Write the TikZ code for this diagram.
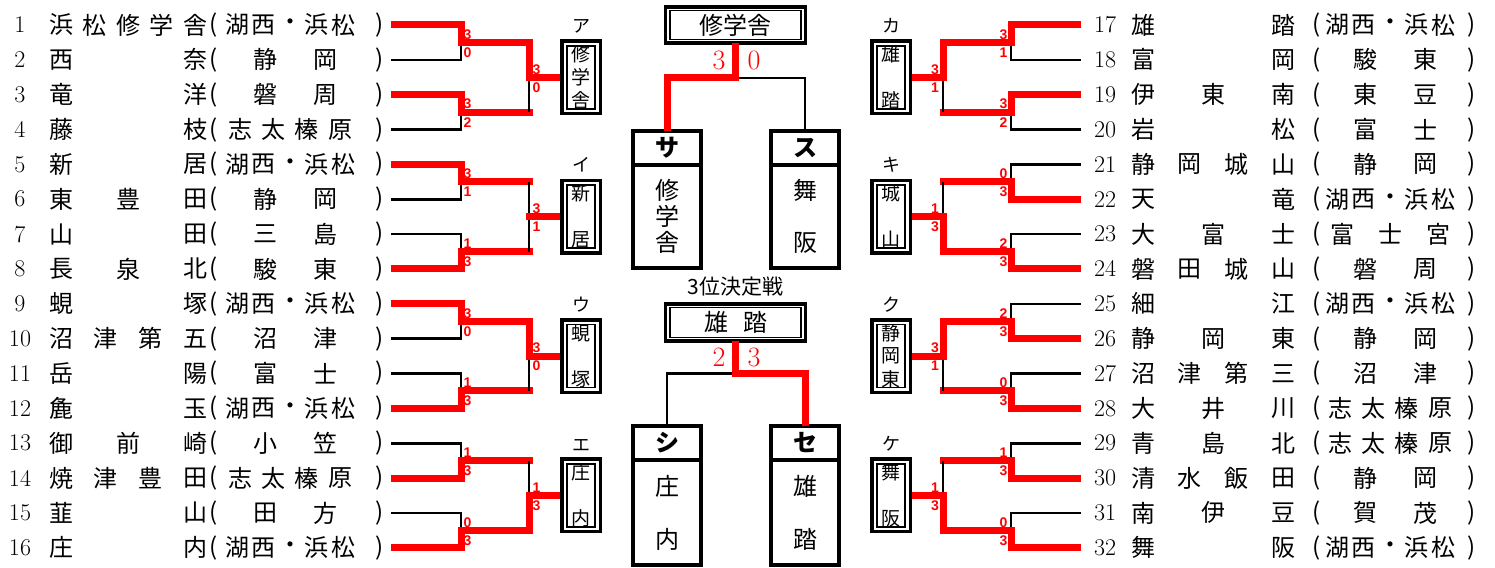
\documentclass[tikz,border=0pt]{standalone}
\usepackage{fontspec}
\newfontfamily\jp{Noto Sans CJK JP}
\newfontfamily\arial{Liberation Sans}
\usetikzlibrary{calc,positioning}

% put a list of characters evenly from one position to another
\newcommand\spreadchars[4][cjk]{%
  \edef\chlist{#4}%
  \gdef\nch{0}%
  \foreach \chr in \chlist {\xdef\nch{\the\numexpr\nch+1\relax}}%
  \foreach \chr [count=\k] in \chlist {%
    \pgfmathsetmacro\fr{(\k-1)/max(\nch-1,1)}%
    \node[#1] at ($#2!\fr!#3$) {\chr};}%
}
% area field: centred, wider for more characters
\newcommand\prefchars[3]{%
  \edef\chlist{#3}%
  \gdef\nch{0}%
  \foreach \chr in \chlist {\xdef\nch{\the\numexpr\nch+1\relax}}%
  \pgfmathsetmacro\hw{\nch==2 ? 30 : (\nch==3 ? 48 : (\nch==4 ? 50 : 53))}%
  \pgfmathsetmacro\pc{\nch==2 ? #1+5 : #1}%
  \spreadchars{(\pc-\hw,#2)}{(\pc+\hw,#2)}{#3}%
}
\newcommand\rowL[3]{%
  \pgfmathsetmacro\ry{25+(#1-1)*34.85}%
  \node[num] (n#1) at (20,\ry) {#1};%
  \spreadchars{(61,\ry)}{(195,\ry)}{#2}%
  \node[cjk] (o#1) at (214,\ry) {(};%
  \prefchars{290}{\ry}{#3}%
  \node[cjk] (c#1) at (380,\ry) {)};%
  \coordinate (a#1) at (391,\ry);%
}
\newcommand\rowR[3]{%
  \pgfmathsetmacro\ry{25+(#1-17)*34.85}%
  \node[num] (n#1) at (1105,\ry) {#1};%
  \spreadchars{(1143,\ry)}{(1283,\ry)}{#2}%
  \node[cjk] (o#1) at (1317,\ry) {(};%
  \prefchars{1390}{\ry}{#3}%
  \node[cjk] (c#1) at (1472,\ry) {)};%
  \coordinate (a#1) at (1081,\ry);%
}

\begin{document}
\begin{tikzpicture}[x=1pt,y=-1pt,
    every node/.style={inner sep=0pt,outer sep=0pt},
    cjk/.style={font=\jp\fontsize{24}{24}\selectfont},
    num/.style={font=\fontsize{24}{24}\selectfont},
    win/.style={red,line width=7pt,line cap=rect,line join=miter},
    winc/.style={win,line cap=butt},
    lose/.style={line width=2.6pt},
    score/.style={red,font=\arial\bfseries\fontsize{14}{14}\selectfont},
    bigscore/.style={red,font=\fontsize{28}{28}\selectfont},
    dbl/.style={draw,line width=3.5pt},
    dblin/.style={draw,line width=1.5pt},
    boxtxt/.style={font=\jp\fontsize{19}{19}\selectfont},
    boxlab/.style={font=\jp\fontsize{18}{18}\selectfont},
    team/.style={draw,line width=3.5pt,minimum width=68},
    head/.style={font=\jp\bfseries\fontsize{24}{24}\selectfont}]

  \useasboundingbox (0,0) rectangle (1495,567);

  % teams
  \rowL{1}{浜,松,修,学,舎}{湖,西,・,浜,松}
  \rowL{2}{西,奈}{静,岡}
  \rowL{3}{竜,洋}{磐,周}
  \rowL{4}{藤,枝}{志,太,榛,原}
  \rowL{5}{新,居}{湖,西,・,浜,松}
  \rowL{6}{東,豊,田}{静,岡}
  \rowL{7}{山,田}{三,島}
  \rowL{8}{長,泉,北}{駿,東}
  \rowL{9}{蜆,塚}{湖,西,・,浜,松}
  \rowL{10}{沼,津,第,五}{沼,津}
  \rowL{11}{岳,陽}{富,士}
  \rowL{12}{麁,玉}{湖,西,・,浜,松}
  \rowL{13}{御,前,崎}{小,笠}
  \rowL{14}{焼,津,豊,田}{志,太,榛,原}
  \rowL{15}{韮,山}{田,方}
  \rowL{16}{庄,内}{湖,西,・,浜,松}
  \rowR{17}{雄,踏}{湖,西,・,浜,松}
  \rowR{18}{富,岡}{駿,東}
  \rowR{19}{伊,東,南}{東,豆}
  \rowR{20}{岩,松}{富,士}
  \rowR{21}{静,岡,城,山}{静,岡}
  \rowR{22}{天,竜}{湖,西,・,浜,松}
  \rowR{23}{大,富,士}{富,士,宮}
  \rowR{24}{磐,田,城,山}{磐,周}
  \rowR{25}{細,江}{湖,西,・,浜,松}
  \rowR{26}{静,岡,東}{静,岡}
  \rowR{27}{沼,津,第,三}{沼,津}
  \rowR{28}{大,井,川}{志,太,榛,原}
  \rowR{29}{青,島,北}{志,太,榛,原}
  \rowR{30}{清,水,飯,田}{静,岡}
  \rowR{31}{南,伊,豆}{賀,茂}
  \rowR{32}{舞,阪}{湖,西,・,浜,松}

  % first round
  \foreach \m/\ga/\gb in {1/3/0,2/3/2,3/3/1,4/1/3,5/3/0,6/1/3,7/1/3,8/0/3}
  {
    \pgfmathtruncatemacro\rt{2*\m-1}
    \pgfmathtruncatemacro\rb{2*\m}
    \ifnum\ga>\gb \let\rw\rt\let\rl\rb \else \let\rw\rb\let\rl\rt \fi
    \coordinate (j\m) at ($(a\rt)!.5!(a\rb)+(70,0)$);
    \coordinate (e\m) at ($(j\m)+(68,0)$);
    \draw[lose] (a\rl) -| (j\m);
    \draw[win] ([xshift=3.5pt]a\rw) -| (j\m) -- (e\m);
    \node[score] at ([shift={(6.5,-8)}]j\m) {\ga};
    \node[score] at ([shift={(6.5,10)}]j\m) {\gb};
  }
  \foreach \m/\ga/\gb in {9/3/1,10/3/2,11/0/3,12/2/3,13/2/3,14/0/3,15/1/3,16/0/3}
  {
    \pgfmathtruncatemacro\rt{2*\m-1}
    \pgfmathtruncatemacro\rb{2*\m}
    \ifnum\ga>\gb \let\rw\rt\let\rl\rb \else \let\rw\rb\let\rl\rt \fi
    \coordinate (j\m) at ($(a\rt)!.5!(a\rb)+(-70,0)$);
    \coordinate (e\m) at ($(j\m)+(-68,0)$);
    \draw[lose] (a\rl) -| (j\m);
    \draw[win] ([xshift=-3.5pt]a\rw) -| (j\m) -- (e\m);
    \node[score] at ([shift={(-7.5,-8)}]j\m) {\ga};
    \node[score] at ([shift={(-7.5,10)}]j\m) {\gb};
  }

  % second round and block winners
  \foreach \q/\ga/\gb/\v/\dx in {1/3/0/1/52,2/3/1/0/52,3/3/0/1/52,4/1/3/1/52,
                                 5/3/1/1/-52,6/1/3/1/-52,7/3/1/1/-52,8/1/3/1/-52}
  {
    \pgfmathtruncatemacro\mt{2*\q-1}
    \pgfmathtruncatemacro\mb{2*\q}
    \ifnum\ga>\gb \let\mw\mt\let\ml\mb \else \let\mw\mb\let\ml\mt \fi
    \coordinate (s\q) at ($(e\mt)!.5!(e\mb)$);
    \draw[lose] (e\ml) -- (s\q);
    \ifnum\v=1 \draw[win] (e\mw) -- (s\q); \else \draw[lose] (e\mw) -- (s\q); \fi
    \node[dbl,minimum width=38.5,minimum height=72.5] (bx\q) at ($(s\q)+(\dx,0)$) {};
    \draw[win] (s\q) -- (bx\q);
    \node[score] at ([shift={(0.15*\dx-0.3,-8)}]s\q) {\ga};
    \node[score] at ([shift={(0.15*\dx-0.3,10)}]s\q) {\gb};
  }
  % boxes over the stubs
  \foreach \q in {1,...,8}
  {
    \node[dbl,fill=white,minimum width=38.5,minimum height=72.5] at (bx\q) {};
    \node[dblin,minimum width=28,minimum height=63] at (bx\q) {};
  }
  \node[boxlab,above=8pt of bx1] (lab1) {ア};
  \node[boxlab,above=8pt of bx2] (lab2) {イ};
  \node[boxlab,above=8pt of bx3] (lab3) {ウ};
  \node[boxlab,above=8pt of bx4] (lab4) {エ};
  \node[boxlab,above=8pt of bx5] (lab5) {カ};
  \node[boxlab,above=8pt of bx6] (lab6) {キ};
  \node[boxlab,above=8pt of bx7] (lab7) {ク};
  \node[boxlab,above=8pt of bx8] (lab8) {ケ};
  \spreadchars[boxtxt]{([yshift=23pt]bx1.center)}{([yshift=-23pt]bx1.center)}{修,学,舎}
  \spreadchars[boxtxt]{([yshift=23pt]bx2.center)}{([yshift=-23pt]bx2.center)}{新,居}
  \spreadchars[boxtxt]{([yshift=23pt]bx3.center)}{([yshift=-23pt]bx3.center)}{蜆,塚}
  \spreadchars[boxtxt]{([yshift=23pt]bx4.center)}{([yshift=-23pt]bx4.center)}{庄,内}
  \spreadchars[boxtxt]{([yshift=23pt]bx5.center)}{([yshift=-23pt]bx5.center)}{雄,踏}
  \spreadchars[boxtxt]{([yshift=23pt]bx6.center)}{([yshift=-23pt]bx6.center)}{城,山}
  \spreadchars[boxtxt]{([yshift=23pt]bx7.center)}{([yshift=-23pt]bx7.center)}{静,岡,東}
  \spreadchars[boxtxt]{([yshift=23pt]bx8.center)}{([yshift=-23pt]bx8.center)}{舞,阪}

  % final
  \node[dbl,minimum width=140,minimum height=36] (champ) at (735.5,25) {};
  \node[dblin,minimum width=131,minimum height=29,cjk] at (champ) {修学舎};
  \node[team,minimum height=137] (sa) at (667,199.5) {};
  \node[team,minimum height=137] (su) at (805,199.5) {};
  \coordinate (fk1) at ($(champ.south)+(0,35)$);
  \draw[lose] (fk1) -| (su.north);
  \draw[winc] (champ.south) -- (fk1) -| (sa.north);
  \node[bigscore] at ([shift={(-16.5,-18)}]fk1) {3};
  \node[bigscore] at ([shift={(18.5,-18)}]fk1) {0};

  % third place
  \node[dbl,minimum width=140,minimum height=37] (third) at (735.5,322.5) {};
  \node[dblin,minimum width=131,minimum height=30,cjk] at (third) {雄\hspace{15pt}踏};
  \node[font=\jp\fontsize{21}{21}\selectfont,above=8pt of third] (ttl3) {3位決定戦};
  \node[team,minimum height=139] (si) at (667,495.5) {};
  \node[team,minimum height=139] (se) at (805,495.5) {};
  \coordinate (fk2) at ($(third.south)+(0,32.5)$);
  \draw[lose] (fk2) -| (si.north);
  \draw[winc] (third.south) -- (fk2) -| (se.north);
  \node[bigscore] at ([shift={(-16.5,-16.5)}]fk2) {2};
  \node[bigscore] at ([shift={(18.5,-16.5)}]fk2) {3};

  % semi-finalists
  \foreach \t/\hd in {sa/サ,su/ス,si/シ,se/セ}
  {
    \draw[line width=3.5pt] ([yshift=-34pt]\t.north west) -- ([yshift=-34pt]\t.north east);
    \node[head] at ([yshift=-17pt]\t.north) {\hd};
  }
  \spreadchars{([yshift=9pt]sa.center)}{([yshift=-43pt]sa.center)}{修,学,舎}
  \spreadchars{([yshift=9pt]su.center)}{([yshift=-43pt]su.center)}{舞,阪}
  \spreadchars{([yshift=9pt]si.center)}{([yshift=-44pt]si.center)}{庄,内}
  \spreadchars{([yshift=9pt]se.center)}{([yshift=-44pt]se.center)}{雄,踏}
\end{tikzpicture}
\end{document}
